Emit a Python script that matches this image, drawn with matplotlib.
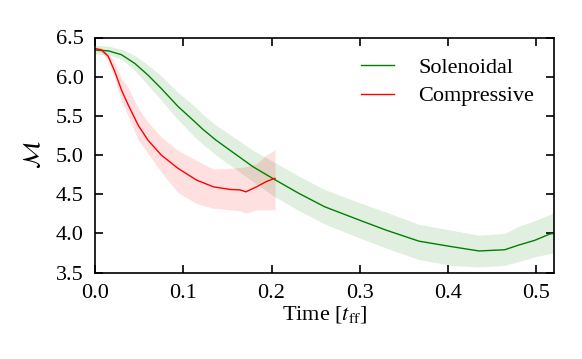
import matplotlib
matplotlib.use("Agg")
import matplotlib.pyplot as plt

plt.rcParams['font.family'] = ['Liberation Serif', 'DejaVu Serif']
plt.rcParams['mathtext.fontset'] = 'stix'

# Solenoidal
sol_t = [0, 0.015, 0.03, 0.045, 0.06, 0.075, 0.094, 0.113, 0.122, 0.137, 0.153, 0.179, 0.203,
         0.231, 0.26, 0.3, 0.33, 0.367, 0.404, 0.435, 0.464, 0.48, 0.498, 0.515, 0.52]
sol_mean = [6.34, 6.33, 6.28, 6.17, 6.02, 5.85, 5.62, 5.425, 5.33, 5.19, 5.06, 4.85, 4.69,
            4.51, 4.34, 4.167, 4.04, 3.90, 3.83, 3.775, 3.79, 3.85, 3.91, 3.99, 4.0]
sol_upper = [6.40, 6.39, 6.35, 6.27, 6.15, 6.01, 5.80, 5.62, 5.52, 5.38, 5.26, 5.06, 4.91,
             4.73, 4.56, 4.39, 4.27, 4.115, 4.04, 3.975, 4.0, 4.09, 4.16, 4.24, 4.27]
sol_lower = [6.29, 6.28, 6.22, 6.08, 5.89, 5.70, 5.45, 5.23, 5.14, 5.00, 4.87, 4.66, 4.47,
             4.29, 4.12, 3.94, 3.81, 3.665, 3.59, 3.57, 3.59, 3.64, 3.70, 3.74, 3.75]

# Compressive
com_t = [0, 0.0075, 0.015, 0.0226, 0.030, 0.0376, 0.0489, 0.060, 0.075, 0.094, 0.115, 0.134,
         0.153, 0.164, 0.171, 0.183, 0.194, 0.203, 0.204]
com_mean = [6.36, 6.34, 6.26, 6.06, 5.83, 5.64, 5.38, 5.19, 5.00, 4.83, 4.68, 4.594,
            4.56, 4.555, 4.53, 4.594, 4.66, 4.70, 4.70]
com_upper = [6.38, 6.37, 6.30, 6.18, 5.98, 5.86, 5.60, 5.42, 5.23, 5.06, 4.93, 4.82,
             4.83, 4.84, 4.85, 4.89, 5.00, 5.06, 5.08]
com_lower = [6.33, 6.31, 6.20, 5.97, 5.68, 5.50, 5.19, 5.02, 4.78, 4.52, 4.38, 4.32,
             4.30, 4.29, 4.26, 4.30, 4.30, 4.30, 4.30]

x_ticks = [0.0, 0.1, 0.2, 0.3, 0.4, 0.5]
y_ticks = [3.5, 4.0, 4.5, 5.0, 5.5, 6.0, 6.5]

fig = plt.figure(figsize=(5.82, 3.59), dpi=100)
ax = fig.add_axes([95 / 582, 1 - 272.5 / 359, (554 - 95) / 582, (272.5 - 37.5) / 359])

ax.fill_between(sol_t, sol_lower, sol_upper, color='green', alpha=0.12, lw=0)
ax.fill_between(com_t, com_lower, com_upper, color='red', alpha=0.12, lw=0)
ax.plot(sol_t, sol_mean, color='green', lw=1.0, label='Solenoidal')
ax.plot(com_t, com_mean, color='red', lw=1.0, label='Compressive')

ax.set_xlim(0, 0.52)
ax.set_ylim(3.5, 6.5)
ax.set_xticks(x_ticks)
ax.set_yticks(y_ticks)
ax.set_xticklabels(['%.1f' % v for v in x_ticks])
ax.set_yticklabels(['%.1f' % v for v in y_ticks])
ax.tick_params(direction='in', top=True, right=True, length=6, width=1.2,
               labelsize=16)
ax.tick_params(axis='x', pad=8)
ax.tick_params(axis='y', pad=8)
for s in ax.spines.values():
    s.set_linewidth(1.2)

ax.set_xlabel(r'Time [$t_{\rm ff}$]', fontsize=16, labelpad=1)
ax.set_ylabel(r'$\mathcal{M}$', fontsize=17, labelpad=8)

ax.legend(loc='upper right', frameon=False, fontsize=16, handlelength=1.45,
          borderaxespad=0.5, labelspacing=0.35, handletextpad=1.1)

fig.savefig('out.png', dpi=100)
